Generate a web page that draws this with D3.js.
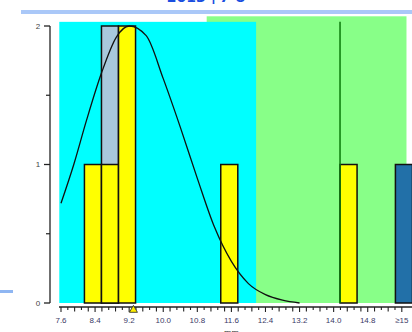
<!DOCTYPE html>
<html lang="en">
<head>
  <meta charset="UTF-8">
  <title>histogram</title>
  <script src="https://d3js.org/d3.v7.min.js"></script>
  <style>
    body { margin: 0; background: #fff; }
    svg { display: block; }
  </style>
</head>
<body>
  <svg width="412" height="332"></svg>
  <script>
  // bins (start of each 0.4 wide bin) and counts
  var binWidth = 0.4;
  var yellowStarts = [8.15, 8.55, 8.95, 11.35, 14.15];
  var yellowCounts = [1, 1, 2, 1, 1];
  var greyStarts = [8.55];
  var greyCounts = [2];
  var overStarts = [15.45];
  var overCounts = [1];

  // fitted curve
  var curveX = [7.6, 7.9, 8.2, 8.55, 8.9, 9.2, 9.6, 10.0, 10.4, 10.8, 11.2, 11.6, 12.0, 12.4, 12.8, 13.2];
  var curveY = [0.72, 1.0, 1.32, 1.66, 1.92, 2.0, 1.93, 1.62, 1.27, 0.9, 0.55, 0.3, 0.14, 0.06, 0.02, 0.0];

  // background bands [from, to, top]
  var cyanBand = [7.56, 12.18, 2.03];
  var greenBand = [11.02, 15.71, 2.07];
  var markerLine = 14.15;
  var meanValue = 9.3;

  var xTickLabels = ["7.6", "8.4", "9.2", "10.0", "10.8", "11.6", "12.4", "13.2", "14.0", "14.8", "≥15"];
  var yTickValues = [0, 1, 2];

  var svg = d3.select("svg");

  var x = d3.scaleLinear().domain([7.6, 15.6]).range([61, 401.8]);
  var y = d3.scaleLinear().domain([0, 2]).range([303, 26]);

  // title (cut at top)
  svg.append("rect")
      .attr("x", 21).attr("y", 10).attr("width", 391).attr("height", 4)
      .attr("fill", "#aac8f8");
  svg.append("text")
      .attr("x", 206).attr("y", 2)
      .attr("text-anchor", "middle")
      .attr("fill", "#1a4fe0")
      .attr("font-family", "DejaVu Sans")
      .attr("font-weight", "bold")
      .attr("font-size", 14)
      .text("2013年7-8");

  svg.append("rect")
      .attr("x", 0).attr("y", 290).attr("width", 13).attr("height", 3)
      .attr("fill", "#8fb6f2");

  // bands
  svg.append("rect")
      .attr("x", x(greenBand[0])).attr("y", y(greenBand[2]))
      .attr("width", x(greenBand[1]) - x(greenBand[0]))
      .attr("height", y(0) - y(greenBand[2]))
      .attr("fill", "#88ff88");
  svg.append("rect")
      .attr("x", x(cyanBand[0])).attr("y", y(cyanBand[2]))
      .attr("width", x(cyanBand[1]) - x(cyanBand[0]))
      .attr("height", y(0) - y(cyanBand[2]))
      .attr("fill", "#00ffff");

  function bars(starts, counts, color) {
    svg.append("g").selectAll("rect")
      .data(starts)
      .enter().append("rect")
        .attr("x", function(d) { return x(d); })
        .attr("y", function(d, i) { return y(counts[i]); })
        .attr("width", function(d) { return x(d + binWidth) - x(d); })
        .attr("height", function(d, i) { return y(0) - y(counts[i]); })
        .attr("fill", color)
        .attr("stroke", "#111")
        .attr("stroke-width", 1.5);
  }
  bars(greyStarts, greyCounts, "#a8c8dc");
  bars(yellowStarts, yellowCounts, "#ffff00");
  bars(overStarts, overCounts, "#2270a8");

  svg.append("line")
      .attr("x1", x(markerLine)).attr("x2", x(markerLine))
      .attr("y1", y(2.03)).attr("y2", y(0))
      .attr("stroke", "#0a7a0a")
      .attr("stroke-width", 1.5);

  var line = d3.line()
      .x(function(d, i) { return x(curveX[i]); })
      .y(function(d) { return y(d); })
      .curve(d3.curveMonotoneX);

  svg.append("path")
      .datum(curveY)
      .attr("fill", "none")
      .attr("stroke", "#111")
      .attr("stroke-width", 1.3)
      .attr("d", line);

  // y axis
  var yAxis = svg.append("g").attr("transform", "translate(50,0)");
  yAxis.append("line")
      .attr("x1", 0).attr("x2", 0).attr("y1", y(2)).attr("y2", y(0))
      .attr("stroke", "#222").attr("stroke-width", 1.3);
  yAxis.selectAll(".major")
    .data(yTickValues)
    .enter().append("line")
      .attr("x1", -6).attr("x2", 0)
      .attr("y1", function(d) { return y(d); })
      .attr("y2", function(d) { return y(d); })
      .attr("stroke", "#222").attr("stroke-width", 1.3);
  yAxis.selectAll(".minor")
    .data([0.5, 1.5])
    .enter().append("line")
      .attr("x1", -4).attr("x2", 0)
      .attr("y1", function(d) { return y(d); })
      .attr("y2", function(d) { return y(d); })
      .attr("stroke", "#222").attr("stroke-width", 1.2);
  yAxis.selectAll("text")
    .data(yTickValues)
    .enter().append("text")
      .attr("x", -12)
      .attr("y", function(d) { return y(d); })
      .attr("dy", "0.35em")
      .attr("text-anchor", "middle")
      .attr("font-family", "Liberation Sans")
      .attr("font-size", 8)
      .attr("fill", "#444")
      .text(function(d) { return d; });

  // x axis
  var xAxis = svg.append("g").attr("transform", "translate(0,307)");
  xAxis.append("line")
      .attr("x1", 59).attr("x2", 412).attr("y1", 0).attr("y2", 0)
      .attr("stroke", "#222").attr("stroke-width", 1.3);
  var ticks = d3.range(0, 51).map(function(i) { return 7.6 + i * 0.16; });
  xAxis.selectAll(".tick")
    .data(ticks)
    .enter().append("line")
      .attr("x1", function(d) { return x(d); })
      .attr("x2", function(d) { return x(d); })
      .attr("y1", 0)
      .attr("y2", function(d, i) { return i % 5 === 0 ? 5 : (i % 2 ? 3 : 4.5); })
      .attr("stroke", "#222").attr("stroke-width", 1.1);
  xAxis.selectAll("text")
    .data(xTickLabels)
    .enter().append("text")
      .attr("x", function(d, i) { return x(7.6 + i * 0.8); })
      .attr("y", 16)
      .attr("text-anchor", "middle")
      .attr("font-family", "Liberation Sans")
      .attr("font-size", 8)
      .attr("fill", "#3a3a66")
      .text(function(d) { return d; });

  // mean marker
  svg.append("path")
      .attr("transform", "translate(" + x(meanValue) + ",310)")
      .attr("d", d3.symbol().type(d3.symbolTriangle).size(28))
      .attr("fill", "#ffee00")
      .attr("stroke", "#222")
      .attr("stroke-width", 0.8);

  svg.append("text")
      .attr("x", x(11.6)).attr("y", 336)
      .attr("text-anchor", "middle")
      .attr("font-family", "Liberation Sans")
      .attr("font-size", 9)
      .attr("fill", "#333")
      .text("mm");
  </script>
</body>
</html>
